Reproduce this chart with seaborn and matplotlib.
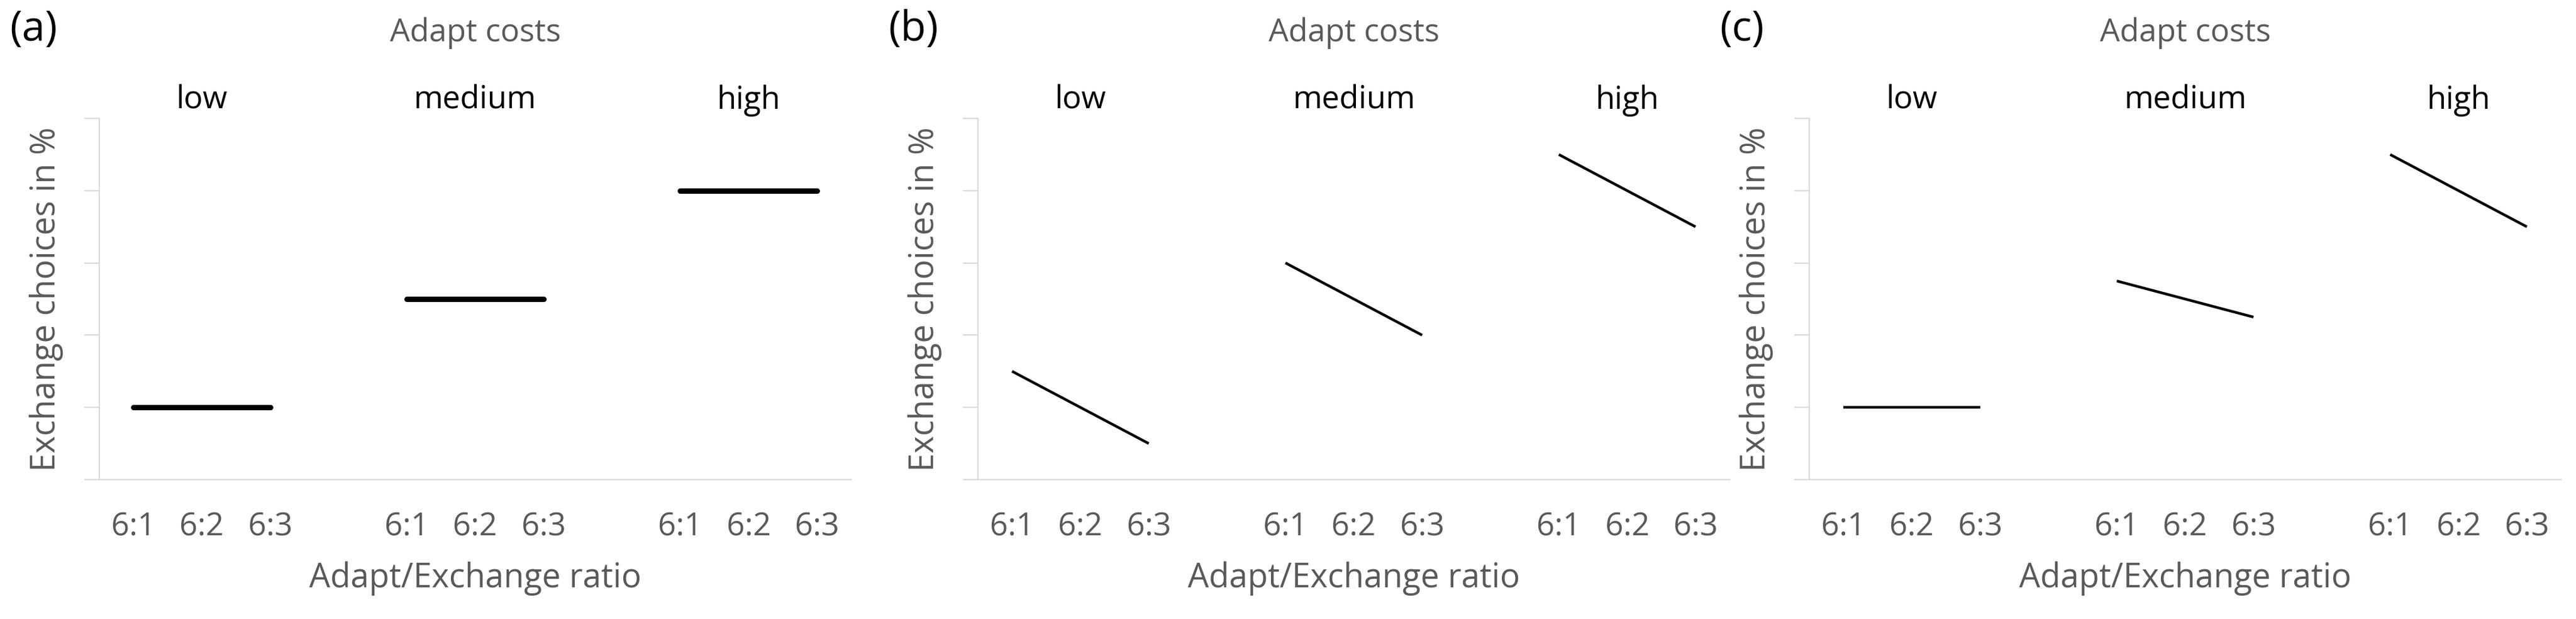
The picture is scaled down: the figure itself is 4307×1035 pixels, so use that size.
import numpy as np
import pandas as pd
import matplotlib
matplotlib.use("Agg")
import matplotlib.pyplot as plt
import seaborn as sns

# Chart data
panels = ["(a)", "(b)", "(c)"]
cost_levels = ["low", "medium", "high"]
ratios = ["6:1", "6:2", "6:3"]
# start (6:1) and end (6:3) values per cost level, y scale 0..5 (unlabelled)
panel_a = [(1.0, 1.0), (2.5, 2.5), (4.0, 4.0)]
panel_b = [(1.5, 0.5), (3.0, 2.0), (4.5, 3.5)]
panel_c = [(1.0, 1.0), (2.75, 2.25), (4.5, 3.5)]
line_widths = [6.5, 3.2, 3.2]

sns.set_style("white")
plt.rcParams["font.family"] = ["Open Sans", "DejaVu Sans"]

GRAY = "#595959"
AXIS = "#d9d9d9"

fig = plt.figure(figsize=(43.07, 10.35), dpi=100)
lefts = [166, 1635, 3025]
W, H = 4307, 1035
ax_w = 1257
bottom, top = 802, 198

for i, (label, vals) in enumerate(zip(panels, [panel_a, panel_b, panel_c])):
    ax = fig.add_axes([lefts[i] / W, 1 - bottom / H, ax_w / W, (bottom - top) / H])
    rows = []
    for g, (lvl, (v0, v1)) in enumerate(zip(cost_levels, vals)):
        rows.append({"x": g * 4 + 0, "y": v0, "cost": lvl})
        rows.append({"x": g * 4 + 2, "y": v1, "cost": lvl})
    df = pd.DataFrame(rows)
    sns.lineplot(data=df, x="x", y="y", units="cost", estimator=None,
                 color="black", lw=line_widths[i], ax=ax,
                 solid_capstyle="round" if i == 0 else "butt")
    ax.set_xlim(-0.5, 10.5)
    ax.set_ylim(0, 5)
    ax.set_yticks(range(6))
    ax.set_yticklabels([])
    pos = [g * 4 + k for g in range(3) for k in range(3)]
    ax.set_xticks(pos)
    ax.set_xticklabels(ratios * 3, fontsize=38, color=GRAY)
    ax.tick_params(axis="x", length=0, pad=38)
    ax.tick_params(axis="y", length=18, width=1.5, color=AXIS, left=True)
    for s in ["top", "right"]:
        ax.spines[s].set_visible(False)
    for s in ["left", "bottom"]:
        ax.spines[s].set_color(AXIS)
        ax.spines[s].set_linewidth(1.5)
    ax.set_xlabel("Adapt/Exchange ratio", fontsize=40, color=GRAY, labelpad=22)
    ax.set_ylabel("Exchange choices in %", fontsize=40, color=GRAY, labelpad=22)
    for g, lvl in enumerate(cost_levels):
        ax.text(g * 4 + 1, 5.25, lvl, ha="center", va="center", fontsize=38,
                color="black")
    ax.text(5, 6.18, "Adapt costs", ha="center", va="center", fontsize=38,
            color=GRAY)
    fig.text((lefts[i] - 150) / W, 1 - 50 / H, label, ha="left", va="center",
             fontsize=50, color="black")

fig.savefig("out.png", dpi=100)
